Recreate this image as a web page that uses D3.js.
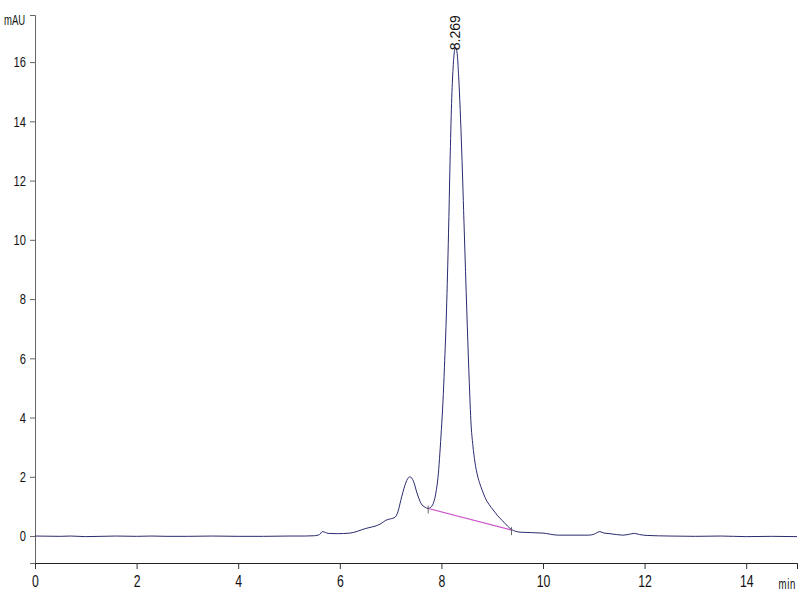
<!DOCTYPE html>
<html>
<head>
<meta charset="utf-8">
<script src="https://cdn.jsdelivr.net/npm/d3@7"></script>
<style>
  body { margin: 0; background: #fff; }
  text { font-family: "Liberation Sans Narrow", "Arial Narrow", "Liberation Sans", sans-serif; fill: #111; }
</style>
</head>
<body>
<div id="chartRegion"></div>
<script>
/* chromatogram trace: retention time (min) and signal (mAU) */
var times = [0, 0.5, 0.7, 1.0, 1.3, 1.6, 2.0, 2.3, 2.6, 3.0, 3.5, 4.0, 4.5, 5.0, 5.3, 5.5,
  5.6, 5.66, 5.72, 5.77, 5.95, 6.2, 6.5, 6.79, 6.93, 7.0, 7.09, 7.15, 7.2, 7.28, 7.33, 7.38,
  7.45, 7.52, 7.6, 7.68, 7.74, 7.79, 7.84, 7.88, 7.91, 7.94, 7.97, 8.0, 8.03, 8.06, 8.1,
  8.14, 8.17, 8.2, 8.23, 8.26, 8.28, 8.31, 8.34, 8.37, 8.4, 8.45, 8.5, 8.54, 8.56, 8.58,
  8.62, 8.66, 8.7, 8.75, 8.8, 8.86, 8.94, 9.02, 9.1, 9.2, 9.3, 9.38, 9.46, 9.55, 10.0, 10.3,
  10.9, 11.0, 11.12, 11.2, 11.32, 11.57, 11.7, 11.8, 11.9, 12.05, 12.5, 13.0, 13.5, 14.0, 14.5, 15.0];
var signal = [0, -0.01, 0, -0.02, -0.01, 0, -0.01, 0, -0.01, -0.01, 0, -0.01, -0.01, 0, 0, 0.01,
  0.05, 0.15, 0.12, 0.09, 0.08, 0.1, 0.25, 0.4, 0.55, 0.58, 0.64, 0.85, 1.2, 1.7, 1.92, 2.0,
  1.85, 1.45, 1.1, 0.97, 0.93, 0.97, 1.1, 1.35, 1.66, 2.1, 2.8, 3.6, 4.5, 5.7, 7.6,
  10.2, 12.6, 14.6, 15.8, 16.4, 16.5, 16.3, 15.5, 14.4, 13.0, 10.3, 7.6, 5.6, 4.7, 3.9,
  3.05, 2.5, 2.12, 1.8, 1.56, 1.3, 1.06, 0.88, 0.7, 0.52, 0.34, 0.22, 0.16, 0.13, 0.1, 0.03,
  0.03, 0.06, 0.15, 0.1, 0.08, 0.03, 0.06, 0.09, 0.05, 0.02, 0.0, -0.01, 0.0, -0.02, -0.01, -0.02];

/* integration baseline of the main peak */
var baseTimes = [7.74, 9.38];
var baseValues = [0.93, 0.2];

var peakTime = 8.269;
var peakLabel = "8.269";
var peakHeight = 16.5;

var xMajor = [0, 2, 4, 6, 8, 10, 12, 14];
var yMajor = [0, 2, 4, 6, 8, 10, 12, 14, 16];

var svg = d3.select("#chartRegion").append("svg").attr("width", 800).attr("height", 600);

var x = d3.scaleLinear().domain([0, 15]).range([35, 797]);
var y = d3.scaleLinear().domain([-0.91, 17.59]).range([563, 15]);

var pts = times.map(function(t, i) { return [t, signal[i]]; });

// narrow look: squeeze glyphs to a fixed width per character
function narrow(sel, perChar) {
  sel.each(function() {
    var t = d3.select(this);
    var n = t.text().length;
    if (n) t.attr("textLength", n * perChar).attr("lengthAdjust", "spacingAndGlyphs");
  });
}

/* axes */
var yMinor = d3.range(-0.5, 17.51, 0.5).filter(function(v) { return yMajor.indexOf(v) < 0; });
var xMinor = d3.range(0.5, 15.01, 0.5).filter(function(v) { return xMajor.indexOf(v) < 0; });

var gy = svg.append("g").attr("transform", "translate(35,0)");
gy.call(d3.axisLeft(y).tickValues(yMinor).tickSize(3).tickFormat(""));
gy.call(d3.axisLeft(y).tickValues(yMajor).tickSize(5).tickPadding(4).tickFormat(d3.format("d")));
gy.selectAll("path").attr("stroke", "#666");
gy.selectAll("line").attr("stroke", "#666");
gy.selectAll("text").style("font-size", "15px").attr("fill", "#111").call(narrow, 6.2);

var gx = svg.append("g").attr("transform", "translate(0,563)");
gx.call(d3.axisBottom(x).tickValues(xMinor).tickSize(4).tickFormat(""));
gx.call(d3.axisBottom(x).tickValues(xMajor).tickSize(6).tickPadding(7).tickFormat(d3.format("d")));
gx.selectAll("path").attr("stroke", "#222");
gx.selectAll("line").attr("stroke", "#333");
gx.selectAll("text").style("font-size", "16px").attr("fill", "#111").call(narrow, 6.8);

/* axis unit labels, squeezed horizontally */
svg.append("text").attr("transform", "translate(4,25) scale(0.68,1)")
  .style("font-size", "14px").text("mAU");
svg.append("text").attr("transform", "translate(796,589) scale(0.64,1)").attr("text-anchor", "end")
  .style("font-size", "15px").style("letter-spacing", "1px").text("min");

/* trace */
var line = d3.line().x(function(d) { return x(d[0]); }).y(function(d) { return y(d[1]); }).curve(d3.curveMonotoneX);
svg.append("path").datum(pts).attr("d", line)
  .attr("fill", "none").attr("stroke", "#2a2a6e").attr("stroke-width", 1);

/* integration baseline + event marks */
var bpts = baseTimes.map(function(t, i) { return [t, baseValues[i]]; });
svg.append("path").datum(bpts).attr("d", d3.line().x(function(d) { return x(d[0]); }).y(function(d) { return y(d[1]); }))
  .attr("fill", "none").attr("stroke", "#cc55cc").attr("stroke-width", 1.2);
svg.selectAll(".evt").data(bpts).enter().append("line")
  .attr("x1", function(d) { return x(d[0]); }).attr("x2", function(d) { return x(d[0]); })
  .attr("y1", function(d) { return y(d[1]) - 3; }).attr("y2", function(d) { return y(d[1]) + 5; })
  .attr("stroke", "#444").attr("stroke-width", 0.8);

/* peak label */
svg.append("text")
  .attr("transform", "translate(" + (x(peakTime) + 5) + "," + (y(peakHeight) + 3) + ") rotate(-90)")
  .style("font-family", "'Liberation Sans', Arial, sans-serif")
  .style("font-size", "14px").text(peakLabel);
</script>
</body>
</html>
